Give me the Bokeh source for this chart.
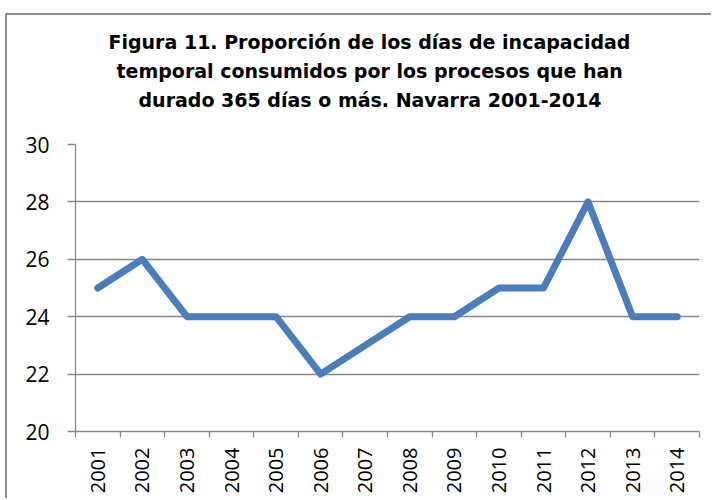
from bokeh.plotting import figure
from bokeh.models import Range1d, FixedTicker, Title
from bokeh.embed import file_html
from bokeh.resources import INLINE
import math

years = ["2001", "2002", "2003", "2004", "2005", "2006", "2007",
         "2008", "2009", "2010", "2011", "2012", "2013", "2014"]
values = [25, 26, 24, 24, 24, 22, 23, 24, 24, 25, 25, 28, 24, 24]
y_ticks = [20, 22, 24, 26, 28, 30]
title_lines = ["Figura 11. Proporción de los días de incapacidad",
               "temporal consumidos por los procesos que han",
               "durado 365 días o más. Navarra 2001-2014"]

xs = [i + 0.5 for i in range(len(years))]

FONT = "Open Sans"
TITLE_FONT = "DejaVu Sans"
GRAY = "#898989"

p = figure(width=706, height=485, output_backend="svg", toolbar_location=None,
           x_range=Range1d(0, len(years)), y_range=Range1d(20, 30),
           min_border_left=68, min_border_right=14, min_border_top=129,
           min_border_bottom=69)
p.styles = {"margin-left": "5px", "margin-top": "13px",
            "border-left": "2px solid #8c8c8c", "border-top": "2px solid #8c8c8c"}
p.outline_line_color = None
p.background_fill_color = "white"
p.border_fill_color = "white"

# grid
p.xgrid.visible = False
p.ygrid.ticker = FixedTicker(ticks=y_ticks)
p.ygrid.grid_line_color = GRAY
p.ygrid.grid_line_width = 1.3

# y axis
p.yaxis.ticker = FixedTicker(ticks=y_ticks)
p.yaxis.axis_line_color = GRAY
p.yaxis.axis_line_width = 1.3
p.yaxis.major_tick_line_color = GRAY
p.yaxis.major_tick_line_width = 1.3
p.yaxis.major_tick_out = 8
p.yaxis.major_tick_in = 0
p.yaxis.minor_tick_line_color = None
p.yaxis.major_label_standoff = 18
p.yaxis.major_label_text_font = FONT
p.yaxis.major_label_text_font_size = "21px"
p.yaxis.major_label_text_color = "black"

# x axis
p.xaxis.ticker = FixedTicker(ticks=xs, minor_ticks=list(range(len(years) + 1)))
p.xaxis.major_label_overrides = {x: y for x, y in zip(xs, years)}
p.xaxis.major_tick_line_color = None
p.xaxis.major_tick_out = 6
p.xaxis.minor_tick_line_color = GRAY
p.xaxis.minor_tick_line_width = 1.3
p.xaxis.minor_tick_out = 6
p.xaxis.minor_tick_in = 0
p.xaxis.axis_line_color = GRAY
p.xaxis.axis_line_width = 1.3
p.xaxis.major_label_orientation = math.pi / 2
p.xaxis.major_label_standoff = 10
p.xaxis.major_label_text_font = FONT
p.xaxis.major_label_text_font_size = "20px"
p.xaxis.major_label_text_color = "black"

p.line(xs, values, line_color="#4A7EBB", line_width=7,
       line_join="round", line_cap="round")

# title: three lines; p.title is outermost, first added is closest to the plot
title_offsets = [33, 41, 63]
def style_title(t, off, so=5):
    t.align = "left"
    t.offset = off
    t.standoff = so
    t.text_font = TITLE_FONT
    t.text_font_style = "bold"
    t.text_font_size = "19px"
    t.text_color = "black"

p.title.text = title_lines[0]
style_title(p.title, title_offsets[0])
# spacer between the title block and the plot area
p.add_layout(Title(text=" ", text_font_size="1px", standoff=28), "above")
for i in [2, 1]:
    t = Title(text=title_lines[i])
    style_title(t, title_offsets[i])
    p.add_layout(t, "above")

open("out.html", "w").write(file_html(p, INLINE))
